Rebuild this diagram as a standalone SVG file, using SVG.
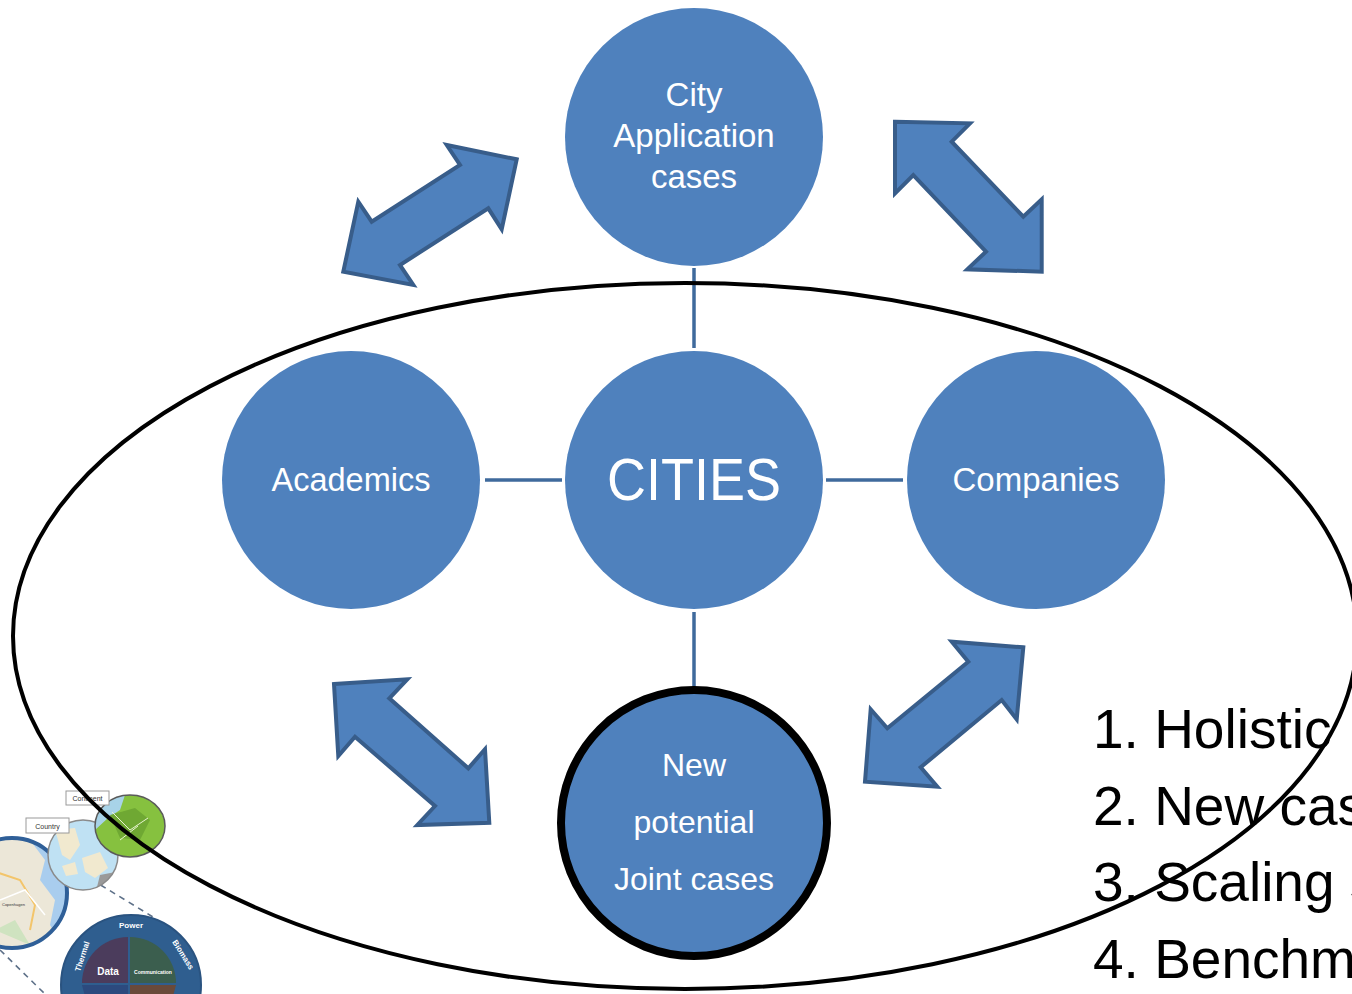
<svg xmlns="http://www.w3.org/2000/svg" width="1352" height="994" viewBox="0 0 1352 994">
<style>
.node{fill:#4f81bd}
.lbl{font-family:"Liberation Sans",Arial,sans-serif;fill:#ffffff;text-anchor:middle}
.conn{stroke:#3f6a9c;stroke-width:3.5;fill:none}
.barrow{fill:#4f81bd;stroke:#385d8a;stroke-width:4;stroke-linejoin:miter}
.list{font-family:"Liberation Sans",Arial,sans-serif;font-size:55px;fill:#000000}
.tiny{font-family:"Liberation Sans",Arial,sans-serif;fill:#333333}
.wt{font-family:"Liberation Sans",Arial,sans-serif;fill:#ffffff;font-weight:bold}
.dash{stroke:#5d7088;stroke-width:1.6;stroke-dasharray:6 5;fill:none}
</style>
<defs>
<clipPath id="cphCl"><circle cx="12" cy="893" r="55"/></clipPath>
<clipPath id="dkCl"><circle cx="83" cy="855" r="35"/></clipPath>
<clipPath id="euCl"><ellipse cx="130" cy="826" rx="35" ry="31"/></clipPath>
</defs>
<rect width="1352" height="994" fill="#ffffff"/>

<g id="collage">
  <line class="dash" x1="63" y1="862" x2="153" y2="917"/>
  <line class="dash" x1="0" y1="950" x2="45" y2="994"/>
  <line x1="69" y1="824" x2="80" y2="823" stroke="#999" stroke-width="1"/>
  <circle cx="12" cy="893" r="55" fill="#ece7d8"/>
  <g clip-path="url(#cphCl)">
    <path d="M30,840 L45,860 L40,880 L55,900 L50,925 L62,945 L70,945 L70,840 Z" fill="#a9cdee"/>
    <path d="M-10,870 L20,880 L35,905 L30,930" stroke="#f3c56b" stroke-width="2" fill="none"/>
    <path d="M0,900 L25,890 L45,915" stroke="#ffffff" stroke-width="1.5" fill="none"/>
    <path d="M-5,930 L15,920 L30,945" fill="#cfe3c0"/>
  </g>
  <circle cx="12" cy="893" r="55" fill="none" stroke="#2f5f98" stroke-width="4"/>
  <text class="tiny" x="2" y="906" font-size="4">Copenhagen</text>
  <circle cx="83" cy="855" r="35" fill="#bfe1f3"/>
  <g clip-path="url(#dkCl)">
    <path d="M55,830 L75,828 L80,845 L70,860 L62,855 L58,840 Z" fill="#f1e9cf"/>
    <path d="M82,858 L100,852 L108,868 L95,878 L85,872 Z" fill="#f1e9cf"/>
    <path d="M100,875 L125,870 L125,895 L95,895 Z" fill="#9a9a9a"/>
    <path d="M62,866 L75,862 L78,874 L66,876 Z" fill="#f1e9cf"/>
  </g>
  <circle cx="83" cy="855" r="35" fill="none" stroke="#8a8a8a" stroke-width="1.5"/>
  <ellipse cx="130" cy="826" rx="35" ry="31" fill="#86c13f"/>
  <g clip-path="url(#euCl)">
    <path d="M95,795 L125,795 L120,810 L108,818 L95,830 Z" fill="#a8d3e8"/>
    <path d="M110,815 L135,808 L150,820 L140,840 L120,838 Z" fill="#6fa833"/>
    <path d="M112,812 L130,830 L148,818 M120,840 L138,826" stroke="#e8f3d0" stroke-width="1" fill="none"/>
  </g>
  <ellipse cx="130" cy="826" rx="35" ry="31" fill="none" stroke="#5a5a5a" stroke-width="1.5"/>
  <rect x="66" y="791" width="43" height="14" fill="#ffffff" stroke="#9a9a9a" stroke-width="1"/>
  <text class="tiny" x="87.5" y="801" font-size="7" text-anchor="middle">Continent</text>
  <rect x="26" y="818" width="43" height="15" fill="#ffffff" stroke="#9a9a9a" stroke-width="1"/>
  <text class="tiny" x="47.5" y="828.5" font-size="7" text-anchor="middle">Country</text>
  <circle cx="131" cy="985" r="70" fill="#2f5e8f" stroke="#2a5380" stroke-width="2"/>
  <path d="M128,983 L82,983 A46,46 0 0 1 128,937 Z" fill="#4b3c5c"/>
  <path d="M130,983 L130,937 A46,46 0 0 1 176,983 Z" fill="#3b5e4e"/>
  <path d="M128,985 L82,985 L86,1000 L128,1000 Z" fill="#2c4a7e"/>
  <path d="M130,985 L176,985 L172,1000 L130,1000 Z" fill="#6a4a3a"/>
  <text class="wt" x="131" y="928" font-size="8" text-anchor="middle">Power</text>
  <text class="wt" x="80" y="972" font-size="8" transform="rotate(-72 80 972)">Thermal</text>
  <text class="wt" x="172" y="942" font-size="8" transform="rotate(58 172 942)">Biomass</text>
  <text class="wt" x="108" y="975" font-size="10" text-anchor="middle">Data</text>
  <text class="wt" x="153" y="974" font-size="5" text-anchor="middle">Communication</text>
</g>

<g id="connectors">
  <line class="conn" x1="694" y1="268" x2="694" y2="348"/>
  <line class="conn" x1="694" y1="612" x2="694" y2="688"/>
  <line class="conn" x1="485" y1="480" x2="562" y2="480"/>
  <line class="conn" x1="826" y1="480" x2="903" y2="480"/>
  <polygon class="barrow" points="516.7,159.3 446.7,145 460,165 371.7,221.7 358.3,201.7 343.3,271.7 413.3,285 400,265 488.3,208.3 501.7,229.3"/>
  <polygon class="barrow" points="895,121.7 970,123.3 951.7,141.7 1023.3,216.7 1041.7,199.3 1041.7,271.7 967.3,269.3 986,251.7 913.3,175 895,193.3"/>
  <polygon class="barrow" points="334,684 407.3,679.3 389.3,698.3 468.3,768.3 485,749.3 489.3,822.7 417.3,825 435,806 355,736.7 338.3,756"/>
  <polygon class="barrow" points="1023.3,647.3 951.7,641.7 968.3,661.7 887.3,728.3 870.7,709.3 865,781.7 937.3,786.7 920.7,767.3 1001.7,700 1016.7,719.3"/>
</g>

<g id="node-city-app">
  <circle class="node" cx="694" cy="137" r="129"/>
  <text class="lbl" font-size="33"><tspan x="694" y="106">City</tspan><tspan x="694" y="147">Application</tspan><tspan x="694" y="188">cases</tspan></text>
</g>
<g id="node-academics">
  <circle class="node" cx="351" cy="480" r="129"/>
  <text class="lbl" font-size="32.5" x="351" y="491">Academics</text>
</g>
<g id="node-cities">
  <circle class="node" cx="694" cy="480" r="129"/>
  <text class="lbl" font-size="60" x="694" y="500" textLength="174" lengthAdjust="spacingAndGlyphs">CITIES</text>
</g>
<g id="node-companies">
  <circle class="node" cx="1036" cy="480" r="129"/>
  <text class="lbl" font-size="33" x="1036" y="491">Companies</text>
</g>
<g id="node-joint">
  <circle class="node" cx="694" cy="823" r="133" stroke="#000000" stroke-width="8"/>
  <text class="lbl" font-size="32"><tspan x="694" y="776">New</tspan><tspan x="694" y="833">potential</tspan><tspan x="694" y="890">Joint cases</tspan></text>
</g>

<g id="list">
  <text class="list" x="1093" y="748">1. Holistic</text>
  <text class="list" x="1093" y="825">2. New cas</text>
  <text class="list" x="1093" y="901">3. Scaling s</text>
  <text class="list" x="1093" y="978">4. Benchm</text>
</g>

<g id="boundary">
  <ellipse cx="685" cy="636" rx="672" ry="353" fill="none" stroke="#000000" stroke-width="4"/>
</g>
</svg>
